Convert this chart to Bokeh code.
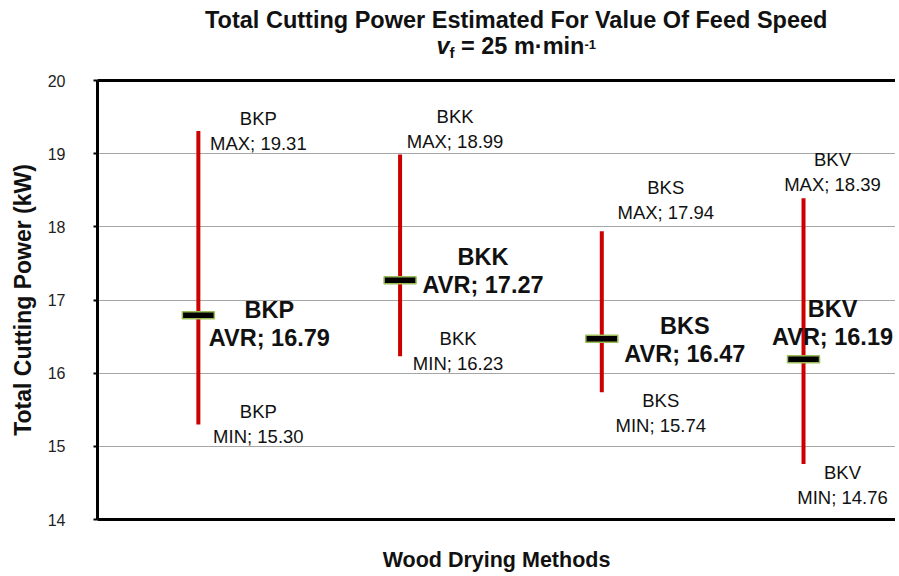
from bokeh.plotting import figure
from bokeh.models import ColumnDataSource, FixedTicker, LinearAxis, Range1d, Div
from bokeh.layouts import column
from bokeh.core.properties import value
from bokeh.embed import file_html
from bokeh.resources import INLINE

# ---- data ----
methods = ["BKP", "BKK", "BKS", "BKV"]
max_power = [19.31, 18.99, 17.94, 18.39]
min_power = [15.30, 16.23, 15.74, 14.76]
avr_power = [16.79, 17.27, 16.47, 16.19]
y_ticks = [14, 15, 16, 17, 18, 19, 20]

# ---- label placement (screen px offsets, layout only) ----
max_dx = [60, 55, 64, 29]
max_dy = [0, -25, -31, -26]
min_dx = [60, 58, 59, 39]
min_dy = [0, -5, 21, 21]
avr_dx = [71, 83, 83, 29]
avr_dy = [9, -9, 1, -36]

FONT = "Liberation Sans"
xs = list(range(1, len(methods) + 1))

title_html = (
    "<div style=\"font-family:'Liberation Sans',Arial,sans-serif;font-weight:bold;"
    "font-size:23.5px;text-align:center;color:#111;white-space:nowrap;\">"
    "<div style='line-height:24px;height:24px'>Total Cutting Power Estimated For Value Of Feed Speed</div>"
    "<div style='line-height:26px;height:26px'>"
    "<i>v</i><span style='font-size:15px;vertical-align:-4px'>f</span> = 25 m·min"
    "<span style='font-size:13px;vertical-align:5px'>-1</span></div></div>"
)
title = Div(text=title_html, width=640, height=60, margin=(8, 0, 0, 205))

p = figure(width=895, height=506, output_backend="svg", toolbar_location=None,
           x_range=Range1d(0.5, 4.456), y_range=Range1d(14, 20),
           min_border_left=97, min_border_top=12, min_border_right=0, min_border_bottom=53)
p.outline_line_color = None
p.background_fill_color = "white"
p.border_fill_color = "white"

# axes
p.yaxis.ticker = FixedTicker(ticks=y_ticks)
p.yaxis.axis_line_width = 3
p.yaxis.axis_line_color = "black"
p.yaxis.major_tick_out = 4
p.yaxis.major_tick_in = 0
p.yaxis.major_tick_line_width = 2
p.yaxis.minor_tick_line_color = None
p.yaxis.major_label_text_font = FONT
p.yaxis.major_label_text_font_size = "16px"
p.yaxis.major_label_text_color = "#222222"
p.yaxis.major_label_standoff = 28
p.yaxis.axis_label = "Total Cutting Power (kW)"
p.yaxis.axis_label_text_font = FONT
p.yaxis.axis_label_text_font_style = "bold"
p.yaxis.axis_label_text_font_size = "23px"
p.yaxis.axis_label_text_color = "#111111"
p.yaxis.axis_label_standoff = 9

p.xaxis.ticker = FixedTicker(ticks=[])
p.xaxis.axis_line_width = 3
p.xaxis.axis_line_color = "black"
p.xaxis.major_tick_line_color = None
p.xaxis.minor_tick_line_color = None
p.xaxis.major_label_text_font_size = "0px"
p.xaxis.axis_label = "Wood Drying Methods"
p.xaxis.axis_label_text_font = FONT
p.xaxis.axis_label_text_font_style = "bold"
p.xaxis.axis_label_text_font_size = "21.5px"
p.xaxis.axis_label_text_color = "#111111"
p.xaxis.axis_label_standoff = 28

top = LinearAxis(ticker=FixedTicker(ticks=[]), axis_line_width=3, axis_line_color="black",
                 major_tick_line_color=None, minor_tick_line_color=None,
                 major_label_text_font_size="0px")
p.add_layout(top, "above")

p.xgrid.grid_line_color = None
p.ygrid.grid_line_color = "#A6A6A6"
p.ygrid.grid_line_width = 1

# data
src = ColumnDataSource(dict(x=xs, mx=max_power, mn=min_power, av=avr_power))
p.segment(x0="x", y0="mn", x1="x", y1="mx", source=src, line_color="#CC0000", line_width=4)
p.rect(x="x", y="av", width=32, height=7, width_units="screen", height_units="screen",
       source=src, fill_color="black", line_color="#9BBB59", line_width=1.5)

lab_max = ColumnDataSource(dict(x=xs, y=max_power,
                                t=[f"{m}\nMAX; {v:.2f}" for m, v in zip(methods, max_power)],
                                dx=max_dx, dy=max_dy))
lab_min = ColumnDataSource(dict(x=xs, y=min_power,
                                t=[f"{m}\nMIN; {v:.2f}" for m, v in zip(methods, min_power)],
                                dx=min_dx, dy=min_dy))
lab_avr = ColumnDataSource(dict(x=xs, y=avr_power,
                                t=[f"{m}\nAVR; {v:.2f}" for m, v in zip(methods, avr_power)],
                                dx=avr_dx, dy=avr_dy))
for s in (lab_max, lab_min):
    p.text(x="x", y="y", text="t", x_offset="dx", y_offset="dy", source=s,
           text_font=value(FONT), text_font_size="18.5px", text_color="#111111",
           text_align="center", text_baseline="middle", text_line_height=1.19)
p.text(x="x", y="y", text="t", x_offset="dx", y_offset="dy", source=lab_avr,
       text_font=value(FONT), text_font_size="23.5px", text_font_style="bold",
       text_color="#111111", text_align="center", text_baseline="middle",
       text_line_height=1.07)

layout = column(title, p, spacing=0)
open("out.html", "w").write(file_html(layout, INLINE))
